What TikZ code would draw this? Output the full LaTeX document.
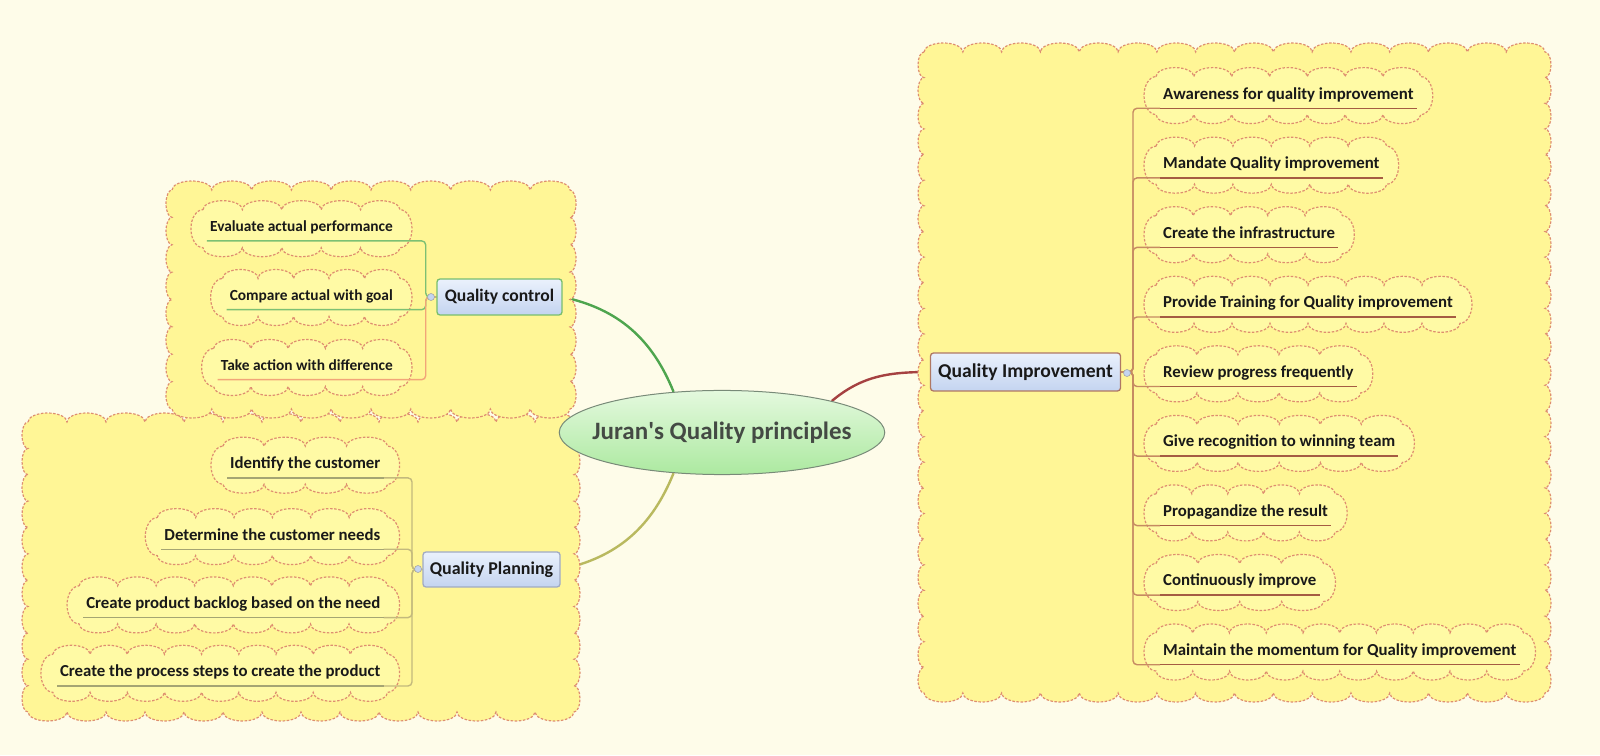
\documentclass[tikz,border=0pt]{standalone}
\usepackage{fontspec}
\setmainfont{Carlito}
\usetikzlibrary{shapes.geometric}
\definecolor{bgc}{RGB}{254,252,233}
\definecolor{cloudfill}{RGB}{255,246,150}
\definecolor{leaffill}{RGB}{255,250,165}
\definecolor{cloudline}{RGB}{222,142,112}
\definecolor{qcgreen}{RGB}{78,165,78}
\definecolor{qpolive}{RGB}{185,185,95}
\definecolor{qired}{RGB}{165,65,65}
\definecolor{brgreen}{RGB}{125,192,115}
\definecolor{brorange}{RGB}{242,165,120}
\definecolor{brkhaki}{RGB}{195,185,125}
\definecolor{ulkhaki}{RGB}{165,165,115}
\definecolor{brbrown}{RGB}{198,138,98}
\definecolor{ulbrown}{RGB}{165,92,66}
\definecolor{topfillA}{RGB}{234,241,252}
\definecolor{topfillB}{RGB}{196,212,240}
\definecolor{ellfillA}{RGB}{228,249,222}
\definecolor{ellfillB}{RGB}{172,233,160}
\definecolor{ellline}{RGB}{120,138,120}
\definecolor{txt}{RGB}{25,25,25}
\definecolor{roottxt}{RGB}{68,74,68}
\definecolor{qcborder}{RGB}{120,190,110}
\definecolor{qpborder}{RGB}{160,170,195}
\definecolor{qiborder}{RGB}{175,120,100}
\pgfdeclarelayer{lzero}
\pgfdeclarelayer{lone}
\pgfdeclarelayer{ltwo}
\pgfdeclarelayer{lthree}
\pgfsetlayers{lzero,lone,ltwo,lthree,main}
% scalloped box: #1 nw point, #2 se point, #3 horiz bump width, #4 horiz bump height,
% #5 vert bump width, #6 vert bump height, #7 style
\newcommand\scallop[7]{%
  \path #1 coordinate (scA) #2 coordinate (scB);%
  \pgfpointanchor{scA}{center}\pgfgetlastxy\scAx\scAy
  \pgfpointanchor{scB}{center}\pgfgetlastxy\scBx\scBy
  \pgfmathtruncatemacro\scNx{max(1,round(((\scBx)-(\scAx))/#3))}%
  \pgfmathsetlengthmacro\scRx{((\scBx)-(\scAx))/\scNx/2}%
  \pgfmathtruncatemacro\scNy{max(1,round(((\scAy)-(\scBy))/#5))}%
  \pgfmathsetlengthmacro\scRy{((\scAy)-(\scBy))/\scNy/2}%
  \path[#7] (\scAx,\scAy)
    \foreach \scI in {1,...,\scNx}{ arc[start angle=180,end angle=0,x radius=\scRx,y radius=#4pt] }
    \foreach \scI in {1,...,\scNy}{ arc[start angle=90,end angle=-90,x radius=#6pt,y radius=\scRy] }
    \foreach \scI in {1,...,\scNx}{ arc[start angle=0,end angle=-180,x radius=\scRx,y radius=#4pt] }
    \foreach \scI in {1,...,\scNy}{ arc[start angle=270,end angle=90,x radius=#6pt,y radius=\scRy] }
    -- cycle;%
}
\tikzset{
  cloudbig/.style={fill=cloudfill, draw=cloudline, line width=1.2pt, dash pattern=on 2.5pt off 1.6pt},
  cloudleaf/.style={fill=leaffill, draw=cloudline, line width=1.2pt, dash pattern=on 2.5pt off 1.6pt},
  leaf/.style={inner xsep=3pt, inner ysep=9pt, text depth=0pt, text=txt},
  leafqc/.style={leaf, text height=10pt, font=\fontsize{15.4}{16}\selectfont\bfseries},
  leafqi/.style={leaf, text height=11pt, font=\fontsize{16.8}{18}\selectfont\bfseries},
  topic/.style={rectangle, rounded corners=3pt, top color=topfillA, bottom color=topfillB,
    line width=1.3pt, inner sep=0pt, text=txt},
  rootnode/.style={ellipse, top color=ellfillA, bottom color=ellfillB, draw=ellline, line width=1pt,
    inner xsep=-14.5pt, inner ysep=19pt, text=roottxt,
    font=\fontsize{25}{28}\selectfont\bfseries},
  maincurve/.style={line width=2.4pt},
  bracket/.style={line width=1.4pt, rounded corners=4pt},
  uline/.style={line width=1.4pt},
  toggle/.style={circle, fill=topfillB, draw=black!35, line width=0.6pt, minimum size=7pt, inner sep=0pt},
}
\begin{document}
\begin{tikzpicture}[x=1pt,y=1pt]
\useasboundingbox (0,0) rectangle (1600,755);
\begin{pgfonlayer}{lzero}
\fill[bgc] (0,0) rectangle (1600,755);
\end{pgfonlayer}

% central topic and main topics
\node[rootnode] (root) at (722,322.5) {Juran\textquotesingle s Quality principles};
\node[topic, draw=qcborder, minimum width=125pt, minimum height=36pt,
  font=\fontsize{17.6}{19}\selectfont\bfseries] (qc) at (499.5,458) {Quality control};
\node[topic, draw=qpborder, minimum width=137pt, minimum height=35pt,
  font=\fontsize{18}{19}\selectfont\bfseries] (qp) at (491.5,185.5) {Quality Planning};
\node[topic, draw=qiborder, minimum width=190pt, minimum height=38pt,
  font=\fontsize{19.6}{21}\selectfont\bfseries] (qi) at (1025.5,383) {Quality Improvement};

% Quality control subtopics
\node[leafqc, anchor=east] (c1) at (396,528.3) {Evaluate actual performance};
\node[leafqc, anchor=east] (c2) at (396,459.5) {Compare actual with goal};
\node[leafqc, anchor=east] (c3) at (396,389.5) {Take action with difference};

% Quality planning subtopics
\node[leafqi, anchor=east] (p1) at (383.6,291.8) {Identify the customer};
\node[leafqi, anchor=east] (p2) at (383.6,220.4) {Determine the customer needs};
\node[leafqi, anchor=east] (p3) at (383.6,152.1) {Create product backlog based on the need};
\node[leafqi, anchor=east] (p4) at (383.6,83.7) {Create the process steps to create the product};

% Quality improvement subtopics
\node[leafqi, anchor=west] (i1) at (1160,661.4) {Awareness for quality improvement};
\node[leafqi, anchor=west] (i2) at (1160,591.8) {Mandate Quality improvement};
\node[leafqi, anchor=west] (i3) at (1160,522.3) {Create the infrastructure};
\node[leafqi, anchor=west] (i4) at (1160,452.7) {Provide Training for Quality improvement};
\node[leafqi, anchor=west] (i5) at (1160,383.2) {Review progress frequently};
\node[leafqi, anchor=west] (i6) at (1160,313.6) {Give recognition to winning team};
\node[leafqi, anchor=west] (i7) at (1160,244.1) {Propagandize the result};
\node[leafqi, anchor=west] (i8) at (1160,174.5) {Continuously improve};
\node[leafqi, anchor=west] (i9) at (1160,105.0) {Maintain the momentum for Quality improvement};

% bracket spines
\coordinate (qcb) at (425.7,458);
\coordinate (qpb) at (412,185.5);
\coordinate (qib) at (1133,383);

% main curves
\begin{pgfonlayer}{lzero}
\draw[maincurve, qcgreen] (qc.east) to[out=-12, in=112] (root.140);
\draw[maincurve, qpolive] (qp.east) to[out=12, in=-112] (root.220);
\draw[maincurve, qired] (root.16) to[out=40, in=180] (qi.west);
\end{pgfonlayer}

% boundaries
\begin{pgfonlayer}{lone}
\scallop{(28,333)}{(574,43)}{40}{9}{26}{6}{cloudbig}
\scallop{(172,565)}{(570,346)}{40}{9}{26}{6}{cloudbig}
\scallop{(924,703)}{(1545,62)}{40}{9}{26}{6}{cloudbig}
\end{pgfonlayer}

\begin{pgfonlayer}{ltwo}
\foreach \nn in {c1,c2,c3,p1,p2,p3,p4,i1,i2,i3,i4,i5,i6,i7,i8,i9}{
  \scallop{([xshift=-4pt,yshift=17pt]\nn.west)}{([xshift=4pt,yshift=-21pt]\nn.east)}{38}{9}{60}{12}{cloudleaf}
}
\end{pgfonlayer}

\begin{pgfonlayer}{lthree}
\draw[bracket, brgreen] (qc.west) -- (qcb) |- (c1.south east) -- (c1.south west);
\draw[bracket, brgreen] (qc.west) -- (qcb) |- (c2.south east) -- (c2.south west);
\draw[bracket, brorange] (qc.west) -- (qcb) |- (c3.south east) -- (c3.south west);
\foreach \nn in {p1,p2,p3,p4}{
  \draw[bracket, brkhaki] (qp.west) -- (qpb) |- (\nn.south east);
  \draw[uline, ulkhaki] (\nn.south east) -- (\nn.south west);
}
\foreach \nn in {i1,i2,i3,i4,i5,i6,i7,i8,i9}{
  \draw[bracket, brbrown] (qi.east) -- (qib) |- (\nn.south west);
  \draw[uline, ulbrown] (\nn.south west) -- (\nn.south east);
}
\node[toggle] (tqc) at (431,458) {};
\node[toggle] (tqp) at (418,186) {};
\node[toggle] (tqi) at (1127,382) {};
\end{pgfonlayer}
\end{tikzpicture}
\end{document}
